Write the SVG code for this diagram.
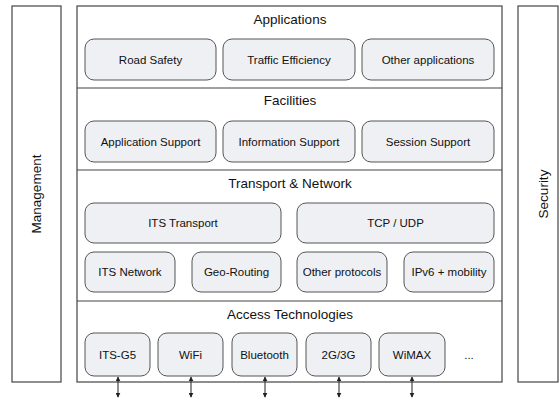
<svg xmlns="http://www.w3.org/2000/svg" width="559" height="399" viewBox="0 0 559 399">
<defs>
<style>
.frame{fill:#fff;stroke:#444;stroke-width:1.2}
.box{fill:#eef0f4;stroke:#555;stroke-width:1}
.div{stroke:#444;stroke-width:1.2}
.t{font-family:"Liberation Sans",Arial,sans-serif;font-size:13.5px;fill:#111;text-anchor:middle}
.l{font-family:"Liberation Sans",Arial,sans-serif;font-size:11.5px;fill:#111;text-anchor:middle}
.c{stroke:#222;stroke-width:1;fill:none;marker-start:url(#ah);marker-end:url(#ah)}
</style>
<marker id="ah" viewBox="0 0 8 8" refX="7" refY="4" markerWidth="5" markerHeight="5" orient="auto-start-reverse" markerUnits="userSpaceOnUse"><path d="M0,0 L8,4 L0,8 z" fill="#222"/></marker>
</defs>
<g id="management"><rect class="frame" x="12" y="6" width="49" height="376"/><text class="t" transform="translate(41,194) rotate(-90)">Management</text></g>
<g id="security"><rect class="frame" x="518" y="6" width="40" height="376"/><text class="t" transform="translate(548,194) rotate(-90)">Security</text></g>
<g id="stack"><rect class="frame" x="77" y="6" width="425" height="376"/>
<line class="div" x1="77" y1="88" x2="502" y2="88"/>
<line class="div" x1="77" y1="170" x2="502" y2="170"/>
<line class="div" x1="77" y1="301" x2="502" y2="301"/></g>
<g id="applications"><text class="t" x="290" y="24">Applications</text>
<g id="road-safety"><rect class="box" x="85" y="39" width="131" height="41" rx="9"/><text class="l" x="150.5" y="63.5">Road Safety</text></g>
<g id="traffic-efficiency"><rect class="box" x="223" y="39" width="132" height="41" rx="9"/><text class="l" x="289" y="63.5">Traffic Efficiency</text></g>
<g id="other-applications"><rect class="box" x="362" y="39" width="132" height="41" rx="9"/><text class="l" x="428" y="63.5">Other applications</text></g></g>
<g id="facilities"><text class="t" x="290" y="105">Facilities</text>
<g id="application-support"><rect class="box" x="85" y="121" width="131" height="41" rx="9"/><text class="l" x="150.5" y="145.5">Application Support</text></g>
<g id="information-support"><rect class="box" x="223" y="121" width="132" height="41" rx="9"/><text class="l" x="289" y="145.5">Information Support</text></g>
<g id="session-support"><rect class="box" x="362" y="121" width="132" height="41" rx="9"/><text class="l" x="428" y="145.5">Session Support</text></g></g>
<g id="transport-network"><text class="t" x="290" y="188">Transport &amp; Network</text>
<g id="its-transport"><rect class="box" x="85" y="203" width="196" height="40" rx="9"/><text class="l" x="183" y="227">ITS Transport</text></g>
<g id="tcp-udp"><rect class="box" x="297" y="203" width="197" height="40" rx="9"/><text class="l" x="395.5" y="227">TCP / UDP</text></g>
<g id="its-network"><rect class="box" x="85" y="252" width="90" height="40" rx="9"/><text class="l" x="130" y="276">ITS Network</text></g>
<g id="geo-routing"><rect class="box" x="192" y="252" width="89" height="40" rx="9"/><text class="l" x="236.5" y="276">Geo-Routing</text></g>
<g id="other-protocols"><rect class="box" x="297" y="252" width="90" height="40" rx="9"/><text class="l" x="342" y="276">Other protocols</text></g>
<g id="ipv6-mobility"><rect class="box" x="404" y="252" width="90" height="40" rx="9"/><text class="l" x="449" y="276">IPv6 + mobility</text></g></g>
<g id="access-technologies"><text class="t" x="290" y="319">Access Technologies</text>
<g id="its-g5"><rect class="box" x="85" y="333" width="65" height="43" rx="9"/><text class="l" x="117.5" y="358.5">ITS-G5</text></g>
<g id="wifi"><rect class="box" x="158" y="333" width="65" height="43" rx="9"/><text class="l" x="190.5" y="358.5">WiFi</text></g>
<g id="bluetooth"><rect class="box" x="232" y="333" width="65" height="43" rx="9"/><text class="l" x="264.5" y="358.5">Bluetooth</text></g>
<g id="g2-3g"><rect class="box" x="306" y="333" width="65" height="43" rx="9"/><text class="l" x="338.5" y="358.5">2G/3G</text></g>
<g id="wimax"><rect class="box" x="379" y="333" width="66" height="43" rx="9"/><text class="l" x="412" y="358.5">WiMAX</text></g>
<text class="l" x="469" y="358.5">...</text></g>
<g id="connectors">
<line class="c" x1="118" y1="377" x2="118" y2="397"/>
<line class="c" x1="191" y1="377" x2="191" y2="397"/>
<line class="c" x1="265" y1="377" x2="265" y2="397"/>
<line class="c" x1="339" y1="377" x2="339" y2="397"/>
<line class="c" x1="412" y1="377" x2="412" y2="397"/>
</g>
</svg>
